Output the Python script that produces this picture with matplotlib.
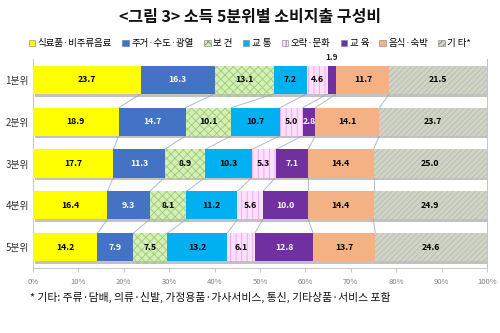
import numpy as np
import matplotlib
matplotlib.use("Agg")
import matplotlib.pyplot as plt
import matplotlib.patheffects as pe
from matplotlib.patches import Patch

plt.rcParams['font.family'] = ['Noto Sans CJK KR', 'DejaVu Sans']
plt.rcParams['hatch.linewidth'] = 0.6

groups = ['1분위', '2분위', '3분위', '4분위', '5분위']
items = ['식료품·비주류음료', '주거·수도·광열', '보 건', '교 통', '오락·문화', '교 육', '음식·숙박', '기 타*']

food = [23.7, 18.9, 17.7, 16.4, 14.2]
housing = [16.3, 14.7, 11.3, 9.3, 7.9]
health = [13.1, 10.1, 8.9, 8.1, 7.5]
transport = [7.2, 10.7, 10.3, 11.2, 13.2]
culture = [4.6, 5.0, 5.3, 5.6, 6.1]
education = [1.9, 2.8, 7.1, 10.0, 12.8]
dining = [11.7, 14.1, 14.4, 14.4, 13.7]
other = [21.5, 23.7, 25.0, 24.9, 24.6]

series = [food, housing, health, transport, culture, education, dining, other]
faces = ['#ffff00', '#4472c4', '#d6eebb', '#00b0f0', '#fde0fb', '#7030a0', '#f4b183', '#cfd4c6']
hatches = [None, None, 'xxxx', None, '|||', None, None, '//////']
hatch_cols = [None, None, '#9ccf6a', None, '#f2a0ee', None, None, '#b8bdb0']
text_cols = ['black', 'white', 'black', 'black', 'black', 'white', 'black', 'black']

fig = plt.figure(figsize=(5, 3.33), dpi=100)
ax = fig.add_axes([0.066, 0.195, 0.908, 0.628])

y = np.arange(len(groups))
h = 0.67
left = np.zeros(len(groups))
edges = []
for vals, fc, ht, hc, tc in zip(series, faces, hatches, hatch_cols, text_cols):
    vals = np.array(vals)
    bars = ax.barh(y, vals, left=left, height=h, color=fc, linewidth=0,
                   hatch=ht, edgecolor=hc if hc else fc, zorder=3)
    for b in bars:
        b.set_path_effects([pe.SimplePatchShadow(offset=(1.5, -2), shadow_rgbFace='#9a9a9a', alpha=0.6),
                            pe.Normal()])
    for i, v in enumerate(vals):
        if v < 2.5:
            # too thin, put the number above the bar
            ax.text(left[i] + v / 2, y[i] - h / 2 - 0.08, f'{v:.1f}', ha='center', va='bottom',
                    fontsize=6, fontweight='bold', color='#222222', zorder=5)
        else:
            ax.text(left[i] + v / 2, y[i], f'{v:.1f}', ha='center', va='center',
                    fontsize=6.3, fontweight='bold', color=tc, zorder=5)
    left = left + vals
    edges.append(left.copy())

# series lines between rows
for e in edges[:-1]:
    for i in range(len(groups) - 1):
        ax.plot([e[i], e[i + 1]], [y[i] + h / 2, y[i + 1] - h / 2],
                color='#a9bcd6', lw=0.7, zorder=2)

ax.set_xlim(0, 100)
ax.set_ylim(len(groups) - 0.5, -0.5)
ax.set_yticks(y)
ax.set_yticklabels(groups, fontsize=7, color='#333333')
ax.set_xticks(np.arange(0, 101, 10))
ax.set_xticklabels([f'{t}%' for t in range(0, 101, 10)], fontsize=5.5, color='#808080')
ax.tick_params(axis='y', length=0, pad=3)
ax.tick_params(axis='x', length=3, color='#c8c8c8', pad=4)
ax.spines['top'].set_visible(False)
ax.spines['left'].set_color('#c8c8c8')
ax.spines['bottom'].set_color('#c8c8c8')
ax.spines['right'].set_color('#b4c4dc')
for s in ax.spines.values():
    s.set_linewidth(0.7)

handles = [Patch(facecolor=fc, edgecolor='#7f7f7f' if fc != '#4472c4' else fc, linewidth=0.4,
                 hatch=ht) for fc, ht in zip(faces, hatches)]
fig.legend(handles, items, loc='center', bbox_to_anchor=(0.5, 0.868), ncol=8, frameon=False,
           fontsize=6.8, handlelength=0.7, handleheight=0.7, handletextpad=0.25, columnspacing=1.1)

fig.text(0.5, 0.948, '<그림 3> 소득 5분위별 소비지출 구성비', ha='center', va='center',
         fontsize=11.5, fontweight='bold', color='#111111')
fig.text(0.06, 0.108, '* 기타: 주류·담배, 의류·신발, 가정용품·가사서비스, 통신, 기타상품·서비스 포함',
         ha='left', va='center', fontsize=7.8, color='#111111')

fig.savefig('out.png', dpi=100)
